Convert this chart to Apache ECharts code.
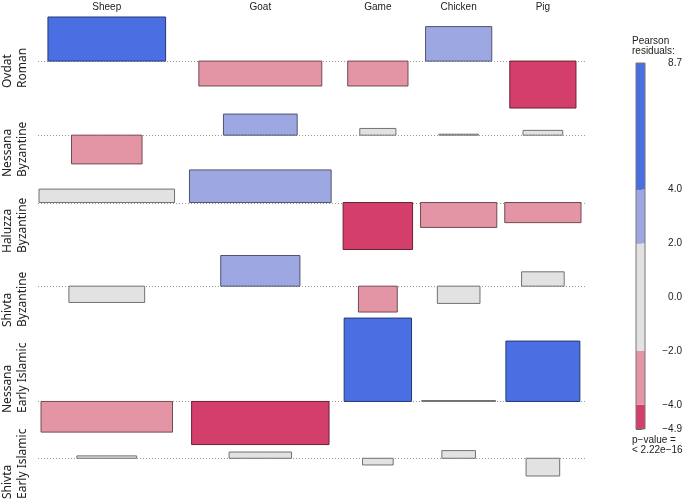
<!DOCTYPE html>
<html>
<head>
<meta charset="utf-8">
<title>Association plot</title>
<script src="https://cdn.jsdelivr.net/npm/echarts@6/dist/echarts.min.js"></script>
<style>
  html, body { margin: 0; padding: 0; background: #fff; }
  #chart { width: 685px; height: 500px; }
</style>
</head>
<body>
<div id="chart"></div>
<script>
  // site / period (rows) and taxon (columns)
  const rowSites = ['Ovdat', 'Nessana', 'Haluzza', 'Shivta', 'Nessana', 'Shivta'];
  const rowPeriods = ['Roman', 'Byzantine', 'Byzantine', 'Byzantine', 'Early Islamic', 'Early Islamic'];
  const colNames = ['Sheep', 'Goat', 'Game', 'Chicken', 'Pig'];

  // Pearson residuals, one list per row (Sheep, Goat, Game, Chicken, Pig)
  const residOvdatRoman = [4.6, -2.6, -2.6, 3.6, -4.9];
  const residNessanaByz = [-3.0, 2.2, 0.7, 0.1, 0.5];
  const residHaluzzaByz = [1.4, 3.4, -4.9, -2.6, -2.1];
  const residShivtaByz = [-1.7, 3.2, -2.7, -1.8, 1.5];
  const residNessanaEI = [-3.2, -4.5, 8.7, 0.1, 6.3];
  const residShivtaEI = [0.25, 0.65, -0.7, 0.8, -1.85];
  const residuals = [residOvdatRoman, residNessanaByz, residHaluzzaByz, residShivtaByz, residNessanaEI, residShivtaEI];

  // marginal shares (bar width ~ sqrt(expected) ~ sqrt(rowShare * colShare))
  const rowShare = [0.217, 0.078, 0.288, 0.090, 0.271, 0.056];
  const colShare = [0.335, 0.366, 0.088, 0.106, 0.106];

  // legend
  const legendBreaks = [-4.9, -4, -2, 2, 4, 8.7];
  const legendTicks = [8.7, 4, 2, 0, -2, -4, -4.9];
  const pValueText = '< 2.22e\u221216';

  // ---- layout (px-ish units) ----
  const shadeColors = ['#D33F6A', '#E495A5', '#E2E2E2', '#9DA8E2', '#4A6FE3'];
  const widthUnit = 438;
  const colGap = [15, 12, 8, 8];
  const rowGap = 0.63;
  const labelEnd = [88, 177, 253, 327, 413, 499];  // bottom of rotated row labels

  const widths = residuals.map((row, i) => colShare.map(c => widthUnit * Math.sqrt(rowShare[i] * c)));
  const colWidth = colNames.map((_, j) => Math.max(...widths.map(w => w[j])));
  const colCenter = [];
  let xPos = 0;
  colWidth.forEach((w, j) => {
    colCenter.push(xPos + w / 2);
    xPos += w + (j < colGap.length ? colGap[j] : 0);
  });
  const xTotal = xPos;

  const baseY = [];
  let yPos = 0;
  residuals.forEach((row, i) => {
    const up = Math.max(0, ...row);
    const down = Math.max(0, ...row.map(v => -v));
    baseY.push(yPos + up);
    yPos += up + down + (i < residuals.length - 1 ? rowGap : 0);
  });
  const yTotal = yPos;

  function shadeFor(r) {
    if (r < -4) return shadeColors[0];
    if (r < -2) return shadeColors[1];
    if (r <= 2) return shadeColors[2];
    if (r <= 4) return shadeColors[3];
    return shadeColors[4];
  }
  function darken(hex) {
    const n = parseInt(hex.slice(1), 16);
    const r = Math.round(((n >> 16) & 255) * 0.5);
    const g = Math.round(((n >> 8) & 255) * 0.5);
    const b = Math.round((n & 255) * 0.5);
    return 'rgb(' + r + ',' + g + ',' + b + ')';
  }

  const cellData = [];
  residuals.forEach((row, i) => row.forEach((r, j) => cellData.push([i, j, r, widths[i][j]])));

  const chart = echarts.init(document.getElementById('chart'));

  const graphics = [];
  rowSites.forEach((site, i) => {
    [[site, 8], [rowPeriods[i], 23]].forEach(([txt, x]) => {
      graphics.push({
        type: 'text', x: x, y: labelEnd[i], rotation: Math.PI / 2,
        style: { text: txt, fill: '#222', font: '12px "Noto Sans"', textAlign: 'left', textVerticalAlign: 'middle' }
      });
    });
  });
  graphics.push({
    type: 'text', left: 632, top: 36,
    style: { text: 'Pearson\nresiduals:', fill: '#222', font: '10px "Liberation Sans"', lineHeight: 10 }
  });
  graphics.push({
    type: 'text', left: 632, top: 435,
    style: { text: 'p\u2212value =\n' + pValueText, fill: '#222', font: '10px "Liberation Sans"', lineHeight: 10 }
  });

  const option = {
    animation: false,
    backgroundColor: '#fff',
    grid: [
      { left: 39, top: 17, width: 542, height: 459 },
      { left: 636, top: 63, width: 9, height: 366 }
    ],
    xAxis: [
      {
        gridIndex: 0, type: 'value', position: 'top', min: 0, max: xTotal,
        axisLine: { show: false }, axisTick: { show: false }, splitLine: { show: false },
        axisLabel: {
          customValues: colCenter, margin: 5,
          fontFamily: 'Liberation Sans', fontSize: 10, color: '#222',
          formatter: v => {
            let best = 0;
            colCenter.forEach((c, j) => { if (Math.abs(c - v) < Math.abs(colCenter[best] - v)) best = j; });
            return colNames[best];
          }
        }
      },
      { gridIndex: 1, type: 'value', min: 0, max: 1, show: false }
    ],
    yAxis: [
      { gridIndex: 0, type: 'value', inverse: true, min: 0, max: yTotal, show: false },
      {
        gridIndex: 1, type: 'value', position: 'right', min: -4.9, max: 8.7,
        axisLine: { show: false },
        splitLine: { show: false },
        axisTick: { show: true, customValues: legendTicks, length: 6, lineStyle: { color: '#555' } },
        axisLabel: {
          customValues: legendTicks, align: 'right', margin: 37,
          fontFamily: 'Liberation Sans', fontSize: 10, color: '#222',
          formatter: v => v.toFixed(1).replace('-', '\u2212')
        }
      }
    ],
    graphic: graphics,
    series: [
      {
        name: 'baselines', type: 'custom', xAxisIndex: 0, yAxisIndex: 0, z: 1,
        data: baseY.map((b, i) => [i]),
        renderItem: (params, api) => {
          const i = api.value(0);
          const l = api.coord([0, baseY[i]]);
          const r = api.coord([xTotal, baseY[i]]);
          return {
            type: 'line',
            shape: { x1: l[0] - 1, y1: Math.round(l[1]) + 0.5, x2: r[0] + 5, y2: Math.round(l[1]) + 0.5 },
            style: { stroke: '#9a9a9a', lineWidth: 1, lineDash: [1, 2] }
          };
        }
      },
      {
        name: 'cells', type: 'custom', xAxisIndex: 0, yAxisIndex: 0, z: 2,
        data: cellData,
        renderItem: (params, api) => {
          const i = api.value(0), j = api.value(1), r = api.value(2), w = api.value(3);
          const a = api.coord([colCenter[j] - w / 2, baseY[i]]);
          const b = api.coord([colCenter[j] + w / 2, baseY[i] - r]);
          const fill = shadeFor(r);
          return {
            type: 'rect',
            shape: { x: a[0], y: Math.min(a[1], b[1]), width: b[0] - a[0], height: Math.max(Math.abs(b[1] - a[1]), 0.5) },
            style: { fill: fill, stroke: darken(fill), lineWidth: 1 }
          };
        }
      },
      {
        name: 'legend', type: 'custom', xAxisIndex: 1, yAxisIndex: 1, z: 2,
        data: shadeColors.map((c, k) => [legendBreaks[k], legendBreaks[k + 1]]),
        renderItem: (params, api) => {
          const a = api.coord([0, api.value(1)]);
          const b = api.coord([1, api.value(0)]);
          return {
            type: 'rect',
            shape: { x: a[0], y: a[1], width: b[0] - a[0], height: b[1] - a[1] },
            style: { fill: shadeColors[params.dataIndex] }
          };
        }
      },
      {
        name: 'legendFrame', type: 'custom', xAxisIndex: 1, yAxisIndex: 1, z: 3,
        data: [[legendBreaks[0], legendBreaks[legendBreaks.length - 1]]],
        renderItem: (params, api) => {
          const a = api.coord([0, api.value(1)]);
          const b = api.coord([1, api.value(0)]);
          return {
            type: 'rect',
            shape: { x: a[0], y: a[1], width: b[0] - a[0], height: b[1] - a[1] },
            style: { fill: 'none', stroke: '#777', lineWidth: 1 }
          };
        }
      }
    ]
  };
  chart.setOption(option);
</script>
</body>
</html>
